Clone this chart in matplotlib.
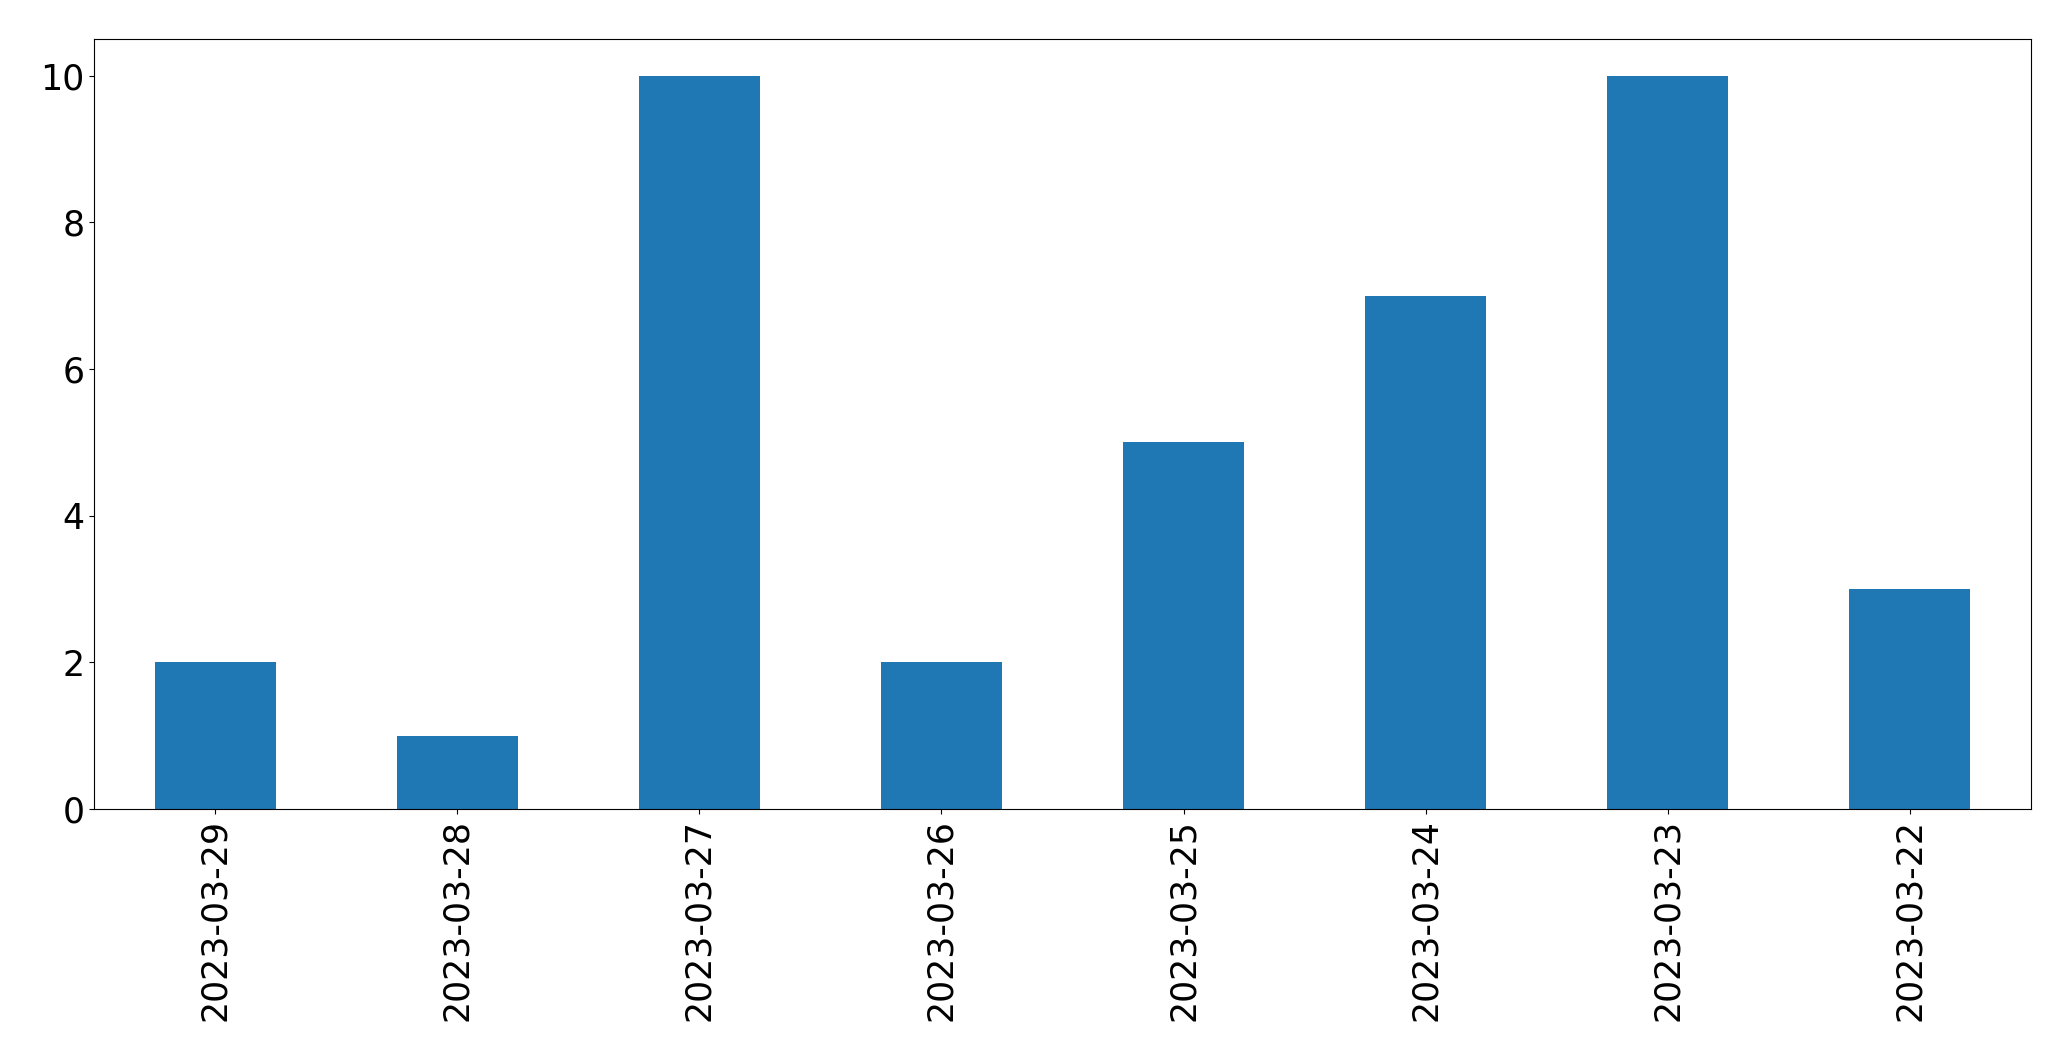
import matplotlib
matplotlib.use("Agg")
import matplotlib.pyplot as plt
import pandas as pd

# Daily counts, in the order shown on the chart
dates = ["2023-03-29", "2023-03-28", "2023-03-27", "2023-03-26",
         "2023-03-25", "2023-03-24", "2023-03-23", "2023-03-22"]
counts = [2, 1, 10, 2, 5, 7, 10, 3]

series = pd.Series(counts, index=dates)

fig = plt.figure(figsize=(20.71, 10.61), dpi=100)
ax = fig.add_axes([0.0454, 0.2375, 0.9353, 0.7257])

series.plot(kind="bar", ax=ax, color="#1f77b4", fontsize=25)

fig.savefig("out.png", dpi=100)
